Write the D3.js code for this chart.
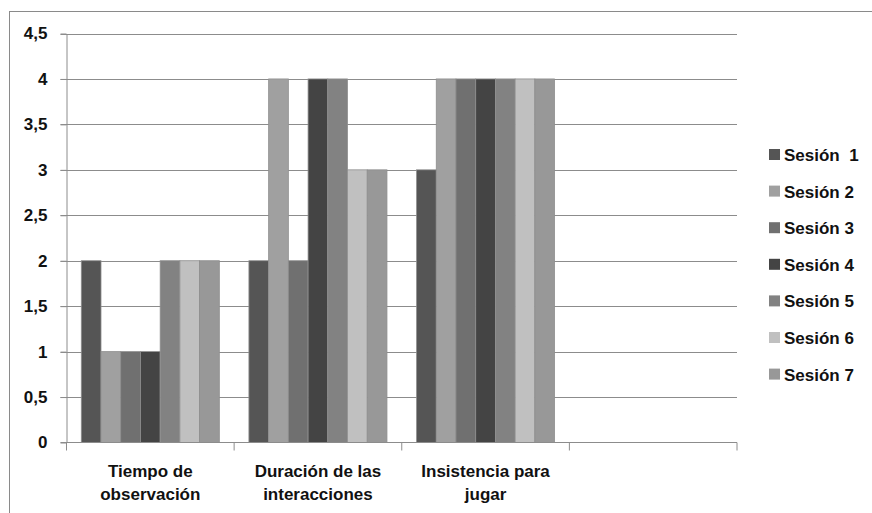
<!DOCTYPE html>
<html>
<head>
<meta charset="utf-8">
<script src="https://cdn.jsdelivr.net/npm/d3@7"></script>
<style>
body{margin:0;background:#fff;}
text{font-family:"Liberation Sans",Arial,sans-serif;fill:#111;}
</style>
</head>
<body>
<div class="chart"></div>
<script>
// datos del gráfico
var categorias=[["Tiempo de","observación"],["Duración de las","interacciones"],["Insistencia para","jugar"],[""]];
var sesiones=["Sesión  1","Sesión 2","Sesión 3","Sesión 4","Sesión 5","Sesión 6","Sesión 7"];
var tiempo=[2,1,1,1,2,2,2];
var duracion=[2,4,2,4,4,3,3];
var insistencia=[3,4,4,4,4,4,4];
var vacio=[];
var yTicks=[0,0.5,1,1.5,2,2.5,3,3.5,4,4.5];
var colores=["#555555","#a0a0a0","#707070","#444444","#828282","#c0c0c0","#989898"];

var valores=[tiempo,duracion,insistencia,vacio];

var width=872,height=513;
var svg=d3.select('div.chart')
		.append('svg')
		.attr('width',width)
		.attr('height',height);

//marco
svg.append('rect')
	.attr('x',9.5).attr('y',11.5)
	.attr('width',880).attr('height',520)
	.attr('fill','none')
	.attr('stroke','#8a8a8a');

var mLeft=66.5,mRight=737,mTop=33.5,mBottom=442.5;

var x0=d3.scaleBand()
		.domain(d3.range(categorias.length))
		.range([mLeft,mRight])
		.padding(0);
var x1=d3.scaleBand()
		.domain(d3.range(sesiones.length))
		.range([0,x0.bandwidth()])
		.paddingInner(0)
		.paddingOuter(0.75);
var y=d3.scaleLinear()
		.domain([0,4.5])
		.range([mBottom,mTop]);

//lineas de la cuadricula
svg.append('g')
	.selectAll('line')
	.data(yTicks.slice(1))
	.enter()
	.append('line')
	.attr('x1',mLeft-6).attr('x2',mRight)
	.attr('y1',function(d){return Math.round(y(d))+0.5;})
	.attr('y2',function(d){return Math.round(y(d))+0.5;})
	.attr('stroke','#8c8c8c');

//barras
var grupos=svg.append('g')
	.selectAll('g')
	.data(valores)
	.enter()
	.append('g')
	.attr('transform',function(d,i){return 'translate('+x0(i)+',0)';});
grupos.selectAll('rect')
	.data(function(d){return d;})
	.enter()
	.append('rect')
	.attr('x',function(d,i){return x1(i);})
	.attr('y',function(d){return y(d);})
	.attr('width',x1.bandwidth())
	.attr('height',function(d){return y(0)-y(d);})
	.attr('fill',function(d,i){return colores[i];})
	.attr('stroke','#8f8f8f')
	.attr('stroke-width',0.8);

//eje y
var fmt=function(d){return String(d).replace('.',',');};
var ejeY=svg.append('g')
	.attr('transform','translate('+mLeft+',0)')
	.call(d3.axisLeft(y).tickValues(yTicks).tickFormat(fmt).tickSize(6).tickSizeOuter(0));
ejeY.select('.domain').attr('stroke','#8c8c8c');
ejeY.selectAll('.tick line').attr('stroke','#8c8c8c');
ejeY.selectAll('.tick text')
	.attr('x',-19)
	.style('font-size','17px')
	.style('font-weight','bold')
	.style('font-family','"Liberation Sans",Arial,sans-serif')
	.attr('fill','#111');

//eje x
var ejeX=svg.append('g')
	.attr('transform','translate(0,'+mBottom+')');
ejeX.append('line')
	.attr('x1',mLeft-6).attr('x2',mRight)
	.attr('y1',0).attr('y2',0)
	.attr('stroke','#8c8c8c');
ejeX.selectAll('line.tk')
	.data(d3.range(categorias.length+1))
	.enter()
	.append('line')
	.attr('class','tk')
	.attr('x1',function(d){return d<categorias.length?x0(d):mRight;})
	.attr('x2',function(d){return d<categorias.length?x0(d):mRight;})
	.attr('y1',0).attr('y2',8)
	.attr('stroke','#8c8c8c');
var etiquetas=ejeX.selectAll('text')
	.data(categorias)
	.enter()
	.append('text')
	.attr('text-anchor','middle')
	.style('font-size','17px')
	.style('font-weight','bold');
etiquetas.selectAll('tspan')
	.data(function(d,i){return d.map(function(t){return {t:t,i:i};});})
	.enter()
	.append('tspan')
	.attr('x',function(d){return x0(d.i)+x0.bandwidth()/2;})
	.attr('y',function(d,j){return 34+j*23;})
	.text(function(d){return d.t;});

//leyenda
var leyenda=svg.append('g')
	.attr('transform','translate(769,149)');
var items=leyenda.selectAll('g')
	.data(sesiones)
	.enter()
	.append('g')
	.attr('transform',function(d,i){return 'translate(0,'+(i*36.6)+')';});
items.append('rect')
	.attr('width',11).attr('height',11)
	.attr('fill',function(d,i){return colores[i];});
items.append('text')
	.attr('x',15).attr('y',12)
	.style('font-size','17px')
	.style('font-weight','bold')
	.style('white-space','pre')
	.attr('xml:space','preserve')
	.text(function(d){return d;});
</script>
</body>
</html>
